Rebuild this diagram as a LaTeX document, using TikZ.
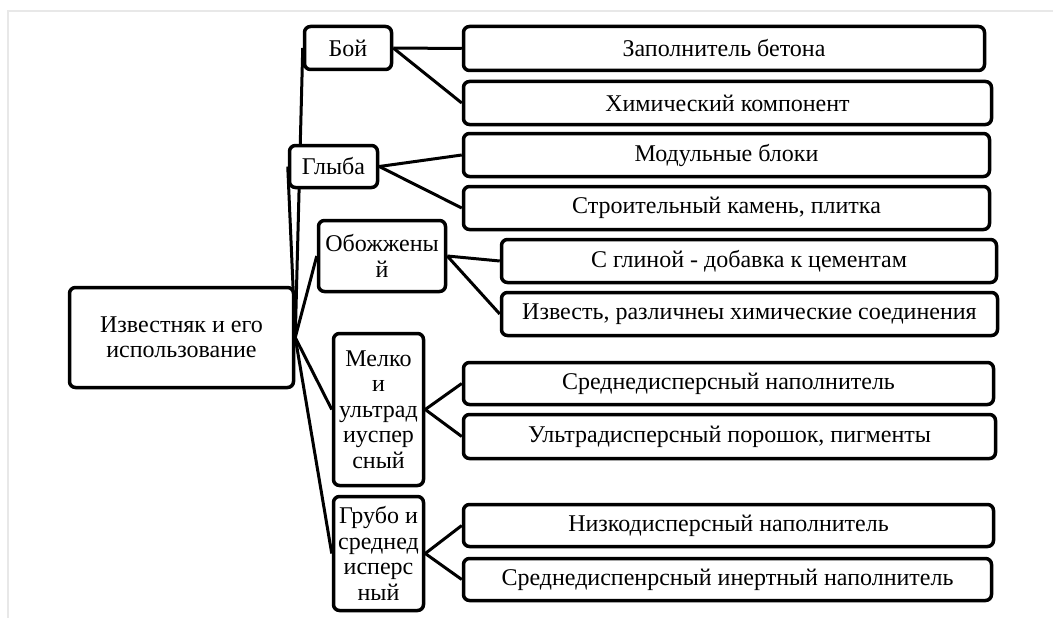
\documentclass[tikz,border=0pt]{standalone}
\usepackage{fontspec}
\setmainfont{Liberation Serif}
\usetikzlibrary{backgrounds}

\begin{document}
\begin{tikzpicture}
			[
				x                   = 1pt,
				y                   = -1pt,
				font                = \fontsize{24}{25.5}\selectfont,
				align               = center,
				line width          = 3.5pt
			]
			\tikzstyle{box}=[draw, fill=white, inner sep=0pt, rounded corners=6pt]
			\tikzstyle{link}=[draw, line width=3pt]
			\useasboundingbox (0,0) rectangle (1053,618);
			\draw [gray!18, line width=1.5pt] (1053,11) -- (8,11) -- (8,618);
			% root and groups
			\node [box, minimum width=224, minimum height=100] (root)   at (181.5,337.5) {Известняк и его\\использование};
			\node [box, minimum width=87,  minimum height=43]  (boy)    at (348,48)      {Бой};
			\node [box, minimum width=88,  minimum height=42]  (glyba)  at (333.5,166.5) {Глыба};
			\node [box, minimum width=127, minimum height=71]  (burnt)  at (382,256)     {Обожжены\\й};
			\node [box, minimum width=90,  minimum height=152] (fine)   at (378.5,409.5) {Мелко\\и\\ультрад\\иуспер\\сный};
			\node [box, minimum width=90,  minimum height=114] (coarse) at (378.5,553.5) {Грубо и\\среднед\\исперс\\ный};
			% uses
			\node [box, minimum width=521, minimum height=44]  (filler)  at (724,48.5)   {Заполнитель бетона};
			\node [box, minimum width=528, minimum height=43]  (chem)    at (727.5,103)  {Химический компонент};
			\node [box, minimum width=526, minimum height=43]  (modules) at (726.5,155)  {Модульные блоки};
			\node [box, minimum width=526, minimum height=43]  (stone)   at (726.5,208)  {Строительный камень, плитка};
			\node [box, minimum width=495, minimum height=43]  (clay)    at (749,261)    {С глиной - добавка к цементам};
			\node [box, minimum width=496, minimum height=43]  (lime)    at (749.5,314)  {Известь, различнеы химические соединения};
			\node [box, minimum width=530, minimum height=42]  (midfill) at (728.5,383.5) {Среднедисперсный наполнитель};
			\node [box, minimum width=532, minimum height=44]  (ultra)   at (729.5,436.5) {Ультрадисперсный порошок, пигменты};
			\node [box, minimum width=530, minimum height=42]  (lowfill) at (728.5,525.5) {Низкодисперсный наполнитель};
			\node [box, minimum width=528, minimum height=42]  (inert)   at (727.5,579.5) {Среднедиспенрсный инертный наполнитель};
			\begin{scope}[on background layer]
				\draw [link] (root.east) -- (boy.west);
				\draw [link] (root.east) -- (glyba.west);
				\draw [link] (root.east) -- (burnt.west);
				\draw [link] (root.east) -- (fine.west);
				\draw [link] (root.east) -- (coarse.west);
				\draw [link] (boy.east) -- (filler.west);
				\draw [link] (boy.east) -- (chem.west);
				\draw [link] (glyba.east) -- (modules.west);
				\draw [link] (glyba.east) -- (stone.west);
				\draw [link] (burnt.east) -- (clay.west);
				\draw [link] (burnt.east) -- (lime.west);
				\draw [link] (fine.east) -- (midfill.west);
				\draw [link] (fine.east) -- (ultra.west);
				\draw [link] (coarse.east) -- (lowfill.west);
				\draw [link] (coarse.east) -- (inert.west);
			\end{scope}
\end{tikzpicture}
\end{document}
